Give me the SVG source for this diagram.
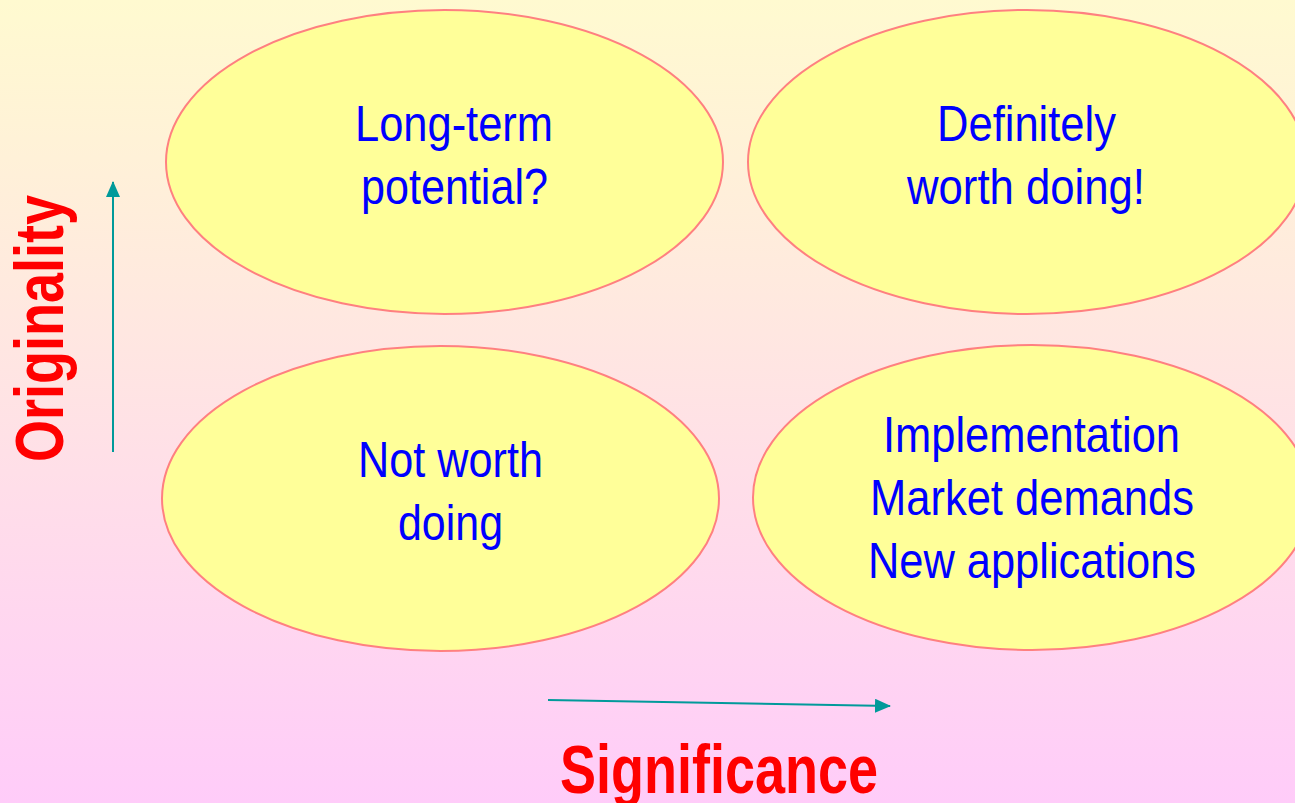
<svg xmlns="http://www.w3.org/2000/svg" width="1295" height="803" viewBox="0 0 1295 803">
  <defs>
    <linearGradient id="bg" x1="0" y1="0" x2="0" y2="1">
      <stop offset="0" stop-color="#FFFAD0"/>
      <stop offset="1" stop-color="#FFCCF9"/>
    </linearGradient>
    <marker id="arrow" viewBox="0 0 16 14" refX="15" refY="7" markerWidth="16" markerHeight="14" markerUnits="userSpaceOnUse" orient="auto">
      <path d="M0,0 L16,7 L0,14 Z" fill="#009A9A"/>
    </marker>
    <style>
      .bubble { fill: #FFFF99; stroke: #FF8080; stroke-width: 2; }
      .label { font-family: "Liberation Sans", Arial, sans-serif; font-size: 50px; fill: #0000FF; text-anchor: middle; }
      .axis-title { font-family: "Liberation Sans", Arial, sans-serif; font-size: 68px; font-weight: bold; fill: #FF0000; text-anchor: middle; }
      .axis { stroke: #009A9A; stroke-width: 2; fill: none; }
    </style>
  </defs>

  <rect x="0" y="0" width="1295" height="803" fill="url(#bg)"/>

  <g id="long-term">
    <ellipse class="bubble" cx="444.5" cy="162" rx="278.5" ry="152"/>
    <text class="label" x="454" y="141" textLength="198" lengthAdjust="spacingAndGlyphs">Long-term</text>
    <text class="label" x="454.5" y="204" textLength="187" lengthAdjust="spacingAndGlyphs">potential?</text>
  </g>

  <g id="definitely">
    <ellipse class="bubble" cx="1027" cy="162" rx="279" ry="152"/>
    <text class="label" x="1026.5" y="141" textLength="179" lengthAdjust="spacingAndGlyphs">Definitely</text>
    <text class="label" x="1026" y="204" textLength="238" lengthAdjust="spacingAndGlyphs">worth doing!</text>
  </g>

  <g id="not-worth">
    <ellipse class="bubble" cx="440.5" cy="498.5" rx="278.5" ry="152.5"/>
    <text class="label" x="450.5" y="477" textLength="185" lengthAdjust="spacingAndGlyphs">Not worth</text>
    <text class="label" x="450.5" y="540" textLength="105" lengthAdjust="spacingAndGlyphs">doing</text>
  </g>

  <g id="applications">
    <ellipse class="bubble" cx="1032" cy="497.5" rx="279" ry="152.5"/>
    <text class="label" x="1031.5" y="452" textLength="297" lengthAdjust="spacingAndGlyphs">Implementation</text>
    <text class="label" x="1032" y="515" textLength="324" lengthAdjust="spacingAndGlyphs">Market demands</text>
    <text class="label" x="1032" y="578" textLength="328" lengthAdjust="spacingAndGlyphs">New applications</text>
  </g>

  <g id="axes">
    <line class="axis" x1="113" y1="452" x2="113" y2="182" marker-end="url(#arrow)"/>
    <line class="axis" x1="548" y1="700" x2="890" y2="706" marker-end="url(#arrow)"/>
  </g>

  <g id="axis-titles">
    <text class="axis-title" x="0" y="0" transform="translate(63,328.5) rotate(-90)" textLength="267" lengthAdjust="spacingAndGlyphs">Originality</text>
    <text class="axis-title" x="719" y="793" textLength="318" lengthAdjust="spacingAndGlyphs">Significance</text>
  </g>
</svg>
